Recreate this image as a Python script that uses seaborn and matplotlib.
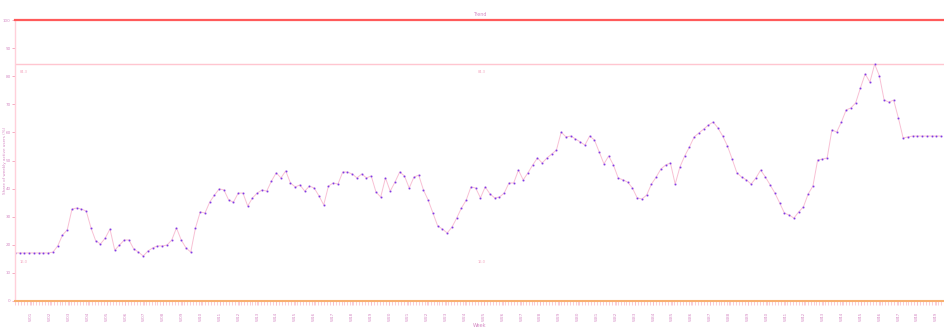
import numpy as np
import pandas as pd
import matplotlib
matplotlib.use("Agg")
import matplotlib.pyplot as plt
from matplotlib.ticker import MultipleLocator
import seaborn as sns

# Weekly share series (%)
share = [
    17.1, 17.1, 17.1, 17.1, 17.1, 17.1, 17.1, 17.1, 17.4, 19.6,
    23.5, 25.3, 32.7, 33.1, 32.7, 32.0, 26.0, 21.4, 20.3, 22.4,
    25.6, 18.1, 19.9, 21.7, 21.7, 18.5, 17.4, 16.0, 17.8, 18.9,
    19.6, 19.6, 19.9, 21.7, 26.0, 21.7, 18.9, 17.4, 26.0, 31.7,
    31.3, 35.2, 37.7, 39.9, 39.5, 35.9, 35.2, 38.4, 38.4, 33.8,
    36.7, 38.4, 39.5, 39.1, 42.7, 45.6, 43.8, 46.3, 42.0, 40.6,
    41.3, 39.1, 40.9, 40.2, 37.4, 34.2, 40.9, 42.0, 41.6, 45.9,
    45.9, 45.2, 43.8, 45.2, 43.8, 44.5, 38.8, 37.0, 43.8, 39.1,
    42.3, 45.9, 44.5, 40.2, 44.1, 44.8, 39.5, 35.9, 31.3, 26.7,
    25.6, 24.2, 26.3, 29.5, 33.1, 35.9, 40.6, 40.2, 36.7, 40.6,
    38.1, 36.7, 37.0, 38.4, 42.0, 42.0, 46.6, 43.1, 45.6, 48.4,
    50.9, 49.1, 50.9, 52.3, 53.7, 60.1, 58.4, 58.7, 57.7, 56.6,
    55.5, 58.7, 57.3, 53.0, 48.8, 51.6, 48.4, 43.8, 43.1, 42.3,
    40.2, 36.7, 36.3, 37.7, 41.6, 44.1, 47.0, 48.4, 49.1, 41.6,
    47.7, 51.6, 54.8, 58.4, 59.8, 61.2, 62.6, 63.7, 61.6, 58.7,
    55.2, 50.5, 45.6, 44.1, 43.1, 41.6, 43.8, 46.6, 44.1, 41.3,
    38.4, 34.9, 31.3, 30.6, 29.5, 31.7, 33.5, 38.1, 40.9, 50.2,
    50.5, 50.9, 60.9, 60.1, 63.7, 68.0, 68.7, 70.5, 75.8, 80.8,
    77.9, 84.3, 80.1, 71.5, 70.8, 71.5, 65.1, 58.0, 58.4, 58.7,
    58.7, 58.7, 58.7, 58.7, 58.7, 58.7,
]
week = list(range(len(share)))
y_ticks = [0, 10, 20, 30, 40, 50, 60, 70, 80, 90, 100]
ceiling = 100

df = pd.DataFrame({"week": week, "share": share})

sns.set_theme(style="white")
plt.rcParams["font.family"] = ["DejaVu Sans"]

text_c = "#d58ac4"
pink = "#f8c0d4"
purple = "#7a3fe6"

fig = plt.figure(figsize=(9.45, 3.29), dpi=100)
ax = fig.add_axes([15 / 945, 28 / 329, 929 / 945, 281 / 329])

sns.lineplot(data=df, x="week", y="share", ax=ax, color=pink, lw=0.7,
             marker="o", markersize=1.3, markerfacecolor=purple,
             markeredgecolor="#c890ea", markeredgewidth=0.3)

peak = max(share)
low = min(share)
ax.axhline(peak, color="#ffc6d0", lw=1.0, zorder=1)

ax.set_xlim(0, 195.6)
ax.set_ylim(0, ceiling)

ax.spines["right"].set_visible(False)
ax.spines["top"].set_color("#ff5a5a")
ax.spines["top"].set_linewidth(1.6)
ax.spines["left"].set_color("#ffd0da")
ax.spines["left"].set_linewidth(1.0)
ax.spines["bottom"].set_color("#f8b070")
ax.spines["bottom"].set_linewidth(1.5)

ax.set_yticks(y_ticks)
ax.set_yticklabels([str(v) for v in y_ticks])
ax.tick_params(axis="y", length=2, width=0.6, color="#f4a0b8", labelsize=3,
               labelcolor=text_c, pad=1, left=True)

major = np.arange(3.4, 196, 3.97)
ax.set_xticks(major)
ax.set_xticklabels([f"W{k + 1:02d}" for k in range(len(major))],
                   rotation=90)
ax.xaxis.set_minor_locator(MultipleLocator(0.625))
ax.tick_params(axis="x", which="both", length=3, width=0.5, color="#f7b9c9",
               bottom=True, labelsize=3, labelcolor=text_c, pad=5)

ax.set_xlabel("Week", fontsize=3.5, color=text_c, labelpad=1)
ax.set_ylabel("Share of weekly active users (%)", fontsize=3, color=text_c)
ax.yaxis.set_label_coords(-0.0086, 0.5)
ax.set_title("Trend", fontsize=3.5, color=text_c, pad=3)

mid = 98.3
for xpos in (1.0, mid):
    ax.text(xpos, peak - 2.2, f"{peak:.1f}", fontsize=2.6, color="#f4a6bf",
            ha="left" if xpos < 2 else "center", va="top")
    ax.text(xpos, low - 1.5, f"{low:.1f}", fontsize=2.6, color="#f4a6bf",
            ha="left" if xpos < 2 else "center", va="top")

ax.grid(False)
fig.savefig("out.png", dpi=100)
